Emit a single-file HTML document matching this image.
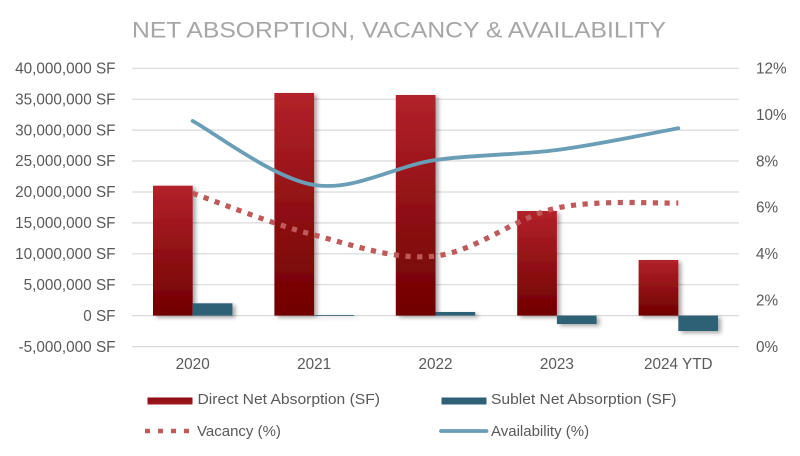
<!DOCTYPE html>
<html><head><meta charset="utf-8"><style>
html,body{margin:0;padding:0;background:#fff;}
svg{display:block;}
text{font-family:"Liberation Sans",sans-serif;}
</style></head><body>
<svg width="800" height="456" viewBox="0 0 800 456" xmlns="http://www.w3.org/2000/svg">
<defs>
<linearGradient id="rg" x1="0" y1="0" x2="0" y2="1">
<stop offset="0" stop-color="#b2222a"/>
<stop offset="1" stop-color="#700000"/>
</linearGradient>
<linearGradient id="lg" x1="0" y1="0" x2="0" y2="1">
<stop offset="0" stop-color="#8a0c12"/>
<stop offset="1" stop-color="#a0181e"/>
</linearGradient>
<filter id="sh" x="-30%" y="-10%" width="160%" height="130%">
<feGaussianBlur in="SourceAlpha" stdDeviation="2"/>
<feOffset dx="3" dy="2" result="o"/>
<feComponentTransfer><feFuncA type="linear" slope="0.35"/></feComponentTransfer>
<feMerge><feMergeNode/><feMergeNode in="SourceGraphic"/></feMerge>
</filter>
</defs>
<rect width="800" height="456" fill="#fff"/>
<text x="132" y="37.3" font-size="22" fill="#a6a6a6" textLength="534" lengthAdjust="spacingAndGlyphs">NET ABSORPTION, VACANCY &amp; AVAILABILITY</text>
<g stroke="#d9d9d9" stroke-width="1.2">
<line x1="132" y1="68.3" x2="739" y2="68.3"/>
<line x1="132" y1="99.2" x2="739" y2="99.2"/>
<line x1="132" y1="130.1" x2="739" y2="130.1"/>
<line x1="132" y1="161" x2="739" y2="161"/>
<line x1="132" y1="192" x2="739" y2="192"/>
<line x1="132" y1="222.9" x2="739" y2="222.9"/>
<line x1="132" y1="253.8" x2="739" y2="253.8"/>
<line x1="132" y1="284.7" x2="739" y2="284.7"/>
<line x1="132" y1="315.6" x2="739" y2="315.6"/>
<line x1="132" y1="346.6" x2="739" y2="346.6"/>
</g>
<g font-size="15.3" fill="#595959" text-anchor="end">
<text x="115.5" y="73.5">40,000,000 SF</text>
<text x="115.5" y="104.4">35,000,000 SF</text>
<text x="115.5" y="135.3">30,000,000 SF</text>
<text x="115.5" y="166.2">25,000,000 SF</text>
<text x="115.5" y="197.2">20,000,000 SF</text>
<text x="115.5" y="228.1">15,000,000 SF</text>
<text x="115.5" y="259">10,000,000 SF</text>
<text x="115.5" y="289.9">5,000,000 SF</text>
<text x="115.5" y="320.8">0 SF</text>
<text x="115.5" y="351.8">-5,000,000 SF</text>
</g>
<g font-size="15.3" fill="#595959">
<text x="756" y="73.5">12%</text>
<text x="756" y="119.9">10%</text>
<text x="756" y="166.3">8%</text>
<text x="756" y="212.7">6%</text>
<text x="756" y="259.1">4%</text>
<text x="756" y="305.5">2%</text>
<text x="756" y="351.9">0%</text>
</g>
<g font-size="15.3" fill="#595959" text-anchor="middle">
<text x="192.7" y="369">2020</text>
<text x="314.1" y="369">2021</text>
<text x="435.5" y="369">2022</text>
<text x="556.9" y="369">2023</text>
<text x="678.3" y="369">2024 YTD</text>
</g>
<g filter="url(#sh)">
<rect x="153" y="185.7" width="39.7" height="129.9" fill="url(#rg)"/>
<rect x="274.4" y="93" width="39.7" height="222.6" fill="url(#rg)"/>
<rect x="395.8" y="95" width="39.7" height="220.6" fill="url(#rg)"/>
<rect x="517.2" y="211" width="39.7" height="104.6" fill="url(#rg)"/>
<rect x="638.6" y="260" width="39.7" height="55.6" fill="url(#rg)"/>
<rect x="192.7" y="303.3" width="39.7" height="12.3" fill="#2f6076"/>
<rect x="314.1" y="315" width="39.7" height="0.8" fill="#2f6076"/>
<rect x="435.5" y="312" width="39.7" height="3.6" fill="#2f6076"/>
<rect x="556.9" y="315.6" width="39.7" height="8.4" fill="#2f6076"/>
<rect x="678.3" y="315.6" width="39.7" height="15.4" fill="#2f6076"/>
</g>
<path d="M192.7,193.3 C212.9,200.25 273.6,224.55 314.1,235 C354.6,245.45 395,260.5 435.5,256 C476,251.5 516.4,216.8 556.9,208 C597.4,199.2 658.1,203.8 678.3,203" fill="none" stroke="#c05a5a" stroke-width="5.2" stroke-dasharray="5.2 6.5"/>
<path d="M192.7,121 C212.9,131.7 273.6,178.5 314.1,185 C354.6,191.5 395,165.8 435.5,160 C476,154.2 516.4,155.3 556.9,150 C597.4,144.7 658.1,131.9 678.3,128.3" fill="none" stroke="#6a9db6" stroke-width="3.8" stroke-linecap="round"/>
<rect x="147.5" y="397.5" width="45" height="7" fill="url(#lg)"/>
<text x="197.5" y="404" font-size="15" fill="#595959" textLength="182.5" lengthAdjust="spacingAndGlyphs">Direct Net Absorption (SF)</text>
<rect x="441.5" y="397.5" width="45" height="7" fill="#2f6076"/>
<text x="491" y="404" font-size="15" fill="#595959" textLength="185.5" lengthAdjust="spacingAndGlyphs">Sublet Net Absorption (SF)</text>
<line x1="145" y1="431" x2="193" y2="431" stroke="#c05a5a" stroke-width="4.5" stroke-dasharray="5 8"/>
<text x="197" y="436" font-size="15" fill="#595959">Vacancy (%)</text>
<line x1="441" y1="431" x2="486.5" y2="431" stroke="#6a9db6" stroke-width="3.8" stroke-linecap="round"/>
<text x="491" y="436" font-size="15" fill="#595959">Availability (%)</text>
</svg>
</body></html>
